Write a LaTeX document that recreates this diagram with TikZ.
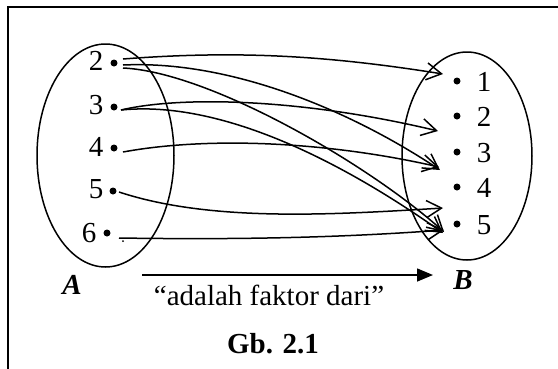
\documentclass[tikz,border=0pt]{standalone}
\usepackage{fontspec}
\setmainfont{Liberation Serif}
\usetikzlibrary{arrows.meta}
\tikzset{
  rel/.style={line width=1.5pt, -{Straight Barb[length=15pt,width=17pt,line width=1.5pt]}},
  setell/.style={draw, line width=1.5pt},
  elem/.style={inner sep=0pt, font=\fontsize{29}{29}\selectfont},
  pt/.style={circle, fill=black, inner sep=0pt, minimum size=7pt},
  setname/.style={inner sep=0pt, font=\fontsize{29}{29}\selectfont\bfseries\itshape},
  captext/.style={inner sep=0pt, font=\fontsize{29}{29}\selectfont},
}
\begin{document}
\begin{tikzpicture}[x=1pt,y=-1pt]
\useasboundingbox (0,0) rectangle (558,368);
\fill[white] (0,0) rectangle (558,368);
% frame
\draw[line width=2pt] (8,380) -- (8,7) -- (570,7);
% sets
\draw[setell] (105.5,155.5) ellipse [x radius=68.5pt, y radius=111.5pt];
\draw[setell] (467,156) ellipse [x radius=65pt, y radius=104pt];
% elements of A
\node[elem, anchor=base] (la2) at (96,70) {2};
\node[elem, anchor=base] (la3) at (96,114) {3};
\node[elem, anchor=base] (la4) at (96,156) {4};
\node[elem, anchor=base] (la5) at (96,198) {5};
\node[elem, anchor=base] (la6) at (89,242) {6};
\node[pt] (a2) at (114,63) {};
\node[pt] (a3) at (114,107) {};
\node[pt] (a4) at (114,148) {};
\node[pt] (a5) at (113,191) {};
\node[pt] (a6) at (107,233) {};
\node[circle, fill=black, inner sep=0pt, minimum size=2pt] (a6dot) at (123,241) {};
% elements of B
\node[pt] (b1) at (457,81) {};
\node[pt] (b2) at (457,116) {};
\node[pt] (b3) at (457,152) {};
\node[pt] (b4) at (457,187) {};
\node[pt] (b5) at (457,224) {};
\node[elem, anchor=base] (lb1) at (484,91) {1};
\node[elem, anchor=base] (lb2) at (484,126) {2};
\node[elem, anchor=base] (lb3) at (484,162) {3};
\node[elem, anchor=base] (lb4) at (484,197) {4};
\node[elem, anchor=base] (lb5) at (484,234) {5};
% connector end points
\coordinate (s2a) at (123,59);
\coordinate (s2b) at (123,65);
\coordinate (s2c) at (123,68);
\coordinate (s3) at (121,110);
\coordinate (s4) at (123,152);
\coordinate (s5) at (119,192);
\coordinate (s6) at (119,238);
\coordinate (t1) at (443,74);
\coordinate (t2) at (438,131);
\coordinate (t3a) at (439,167);
\coordinate (t3b) at (440,170);
\coordinate (t4) at (443,208);
\coordinate (t5a) at (444,230);
\coordinate (t5b) at (444,232);
\coordinate (t5c) at (443,233);
% arrows
\draw[rel] (s2a) .. controls (240,50) and (330,56) .. (t1);
\draw[rel] (s2b) .. controls (230,60) and (350,110) .. (t3b);
\draw[rel] (s2c) .. controls (210,72) and (370,165) .. (t5b);
\draw[rel] (s3) .. controls (180,96) and (300,98) .. (t2);
\draw[rel] (s3) .. controls (220,100) and (340,160) .. (t5c);
\draw[rel] (s4) .. controls (210,136) and (330,142) .. (t3a);
\draw[rel] (s5) .. controls (210,222) and (330,215) .. (t4);
\draw[rel] (s6) .. controls (250,240) and (350,237) .. (t5a);
% set names and relation
\node[setname] (nA) at (72,285) {A};
\node[setname] (nB) at (463,280) {B};
\coordinate (r0) at (142,275);
\coordinate (r1) at (433,275);
\draw[line width=1.5pt, -{Triangle[length=16pt,width=13pt]}] (r0) -- (r1);
\node[captext, anchor=base] (rel) at (269,305) {``adalah faktor dari''};
\node[captext, anchor=base, font=\fontsize{29}{29}\selectfont\bfseries] (fig) at (273,353) {Gb. 2.1};
\end{tikzpicture}
\end{document}
